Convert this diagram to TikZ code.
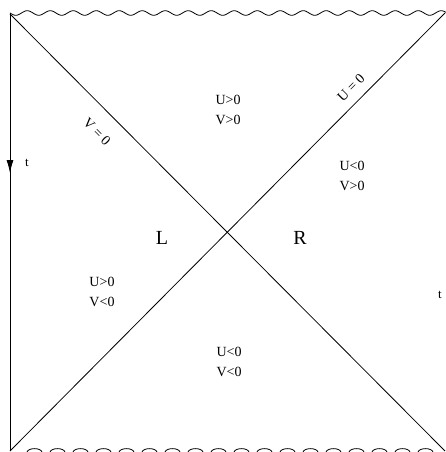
\documentclass[tikz,border=0pt]{standalone}
\usepackage{fontspec}
\setmainfont{Liberation Serif}
\usetikzlibrary{arrows.meta}
\begin{document}
\begin{tikzpicture}[x=1pt,y=-1pt,
  lbl/.style={font=\fontsize{14}{20}\selectfont, align=center, inner sep=0pt},
  big/.style={font=\fontsize{20}{22}\selectfont, inner sep=0pt},
  tl/.style={font=\fontsize{13}{14}\selectfont, inner sep=0pt},
  ln/.style={line width=0.8pt}]
\useasboundingbox (0,0) rectangle (446,452);
\coordinate (TL) at (10,13);
\coordinate (BL) at (10,451);
\coordinate (D1a) at (10,14);
\coordinate (D1b) at (445,451);
\coordinate (D2a) at (10,451);
\coordinate (D2b) at (445,13);
\coordinate (A1) at (10,150);
\coordinate (A2) at (10,173);
% left edge
\draw[ln] (TL) -- (BL);
\draw[ln,-{Latex[length=13pt,width=7pt]}] (A1) -- (A2);
% diagonals
\draw[ln] (D1a) -- (D1b);
\draw[ln] (D2a) -- (D2b);
% top singularity
\draw[ln] plot[domain=10:446, samples=300] (\x, {13 + 2.3*sin((\x-10)*15.652)});
% bottom singularity
\foreach \k in {0,...,17} {
  \draw[ln] ({27+23*\k},452) .. controls +(1.5,-4.5) and +(-1.5,-4.5) .. +(15,0);
}
% labels
\node[lbl] (q1) at (228,110) {U>0\\V>0};
\node[lbl] (q2) at (352,176) {U<0\\V>0};
\node[lbl] (q3) at (102,292) {U>0\\V<0};
\node[lbl] (q4) at (229,362) {U<0\\V<0};
\node[big] (L) at (162,238) {L};
\node[big] (R) at (300,238) {R};
\node[tl] (t1) at (27,163) {t};
\node[tl] (t2) at (440,295) {t};
\node[lbl, rotate=-45] (v0) at (97,132) {V = 0};
\node[lbl, rotate=45] (u0) at (351,88) {U = 0};
\end{tikzpicture}
\end{document}
